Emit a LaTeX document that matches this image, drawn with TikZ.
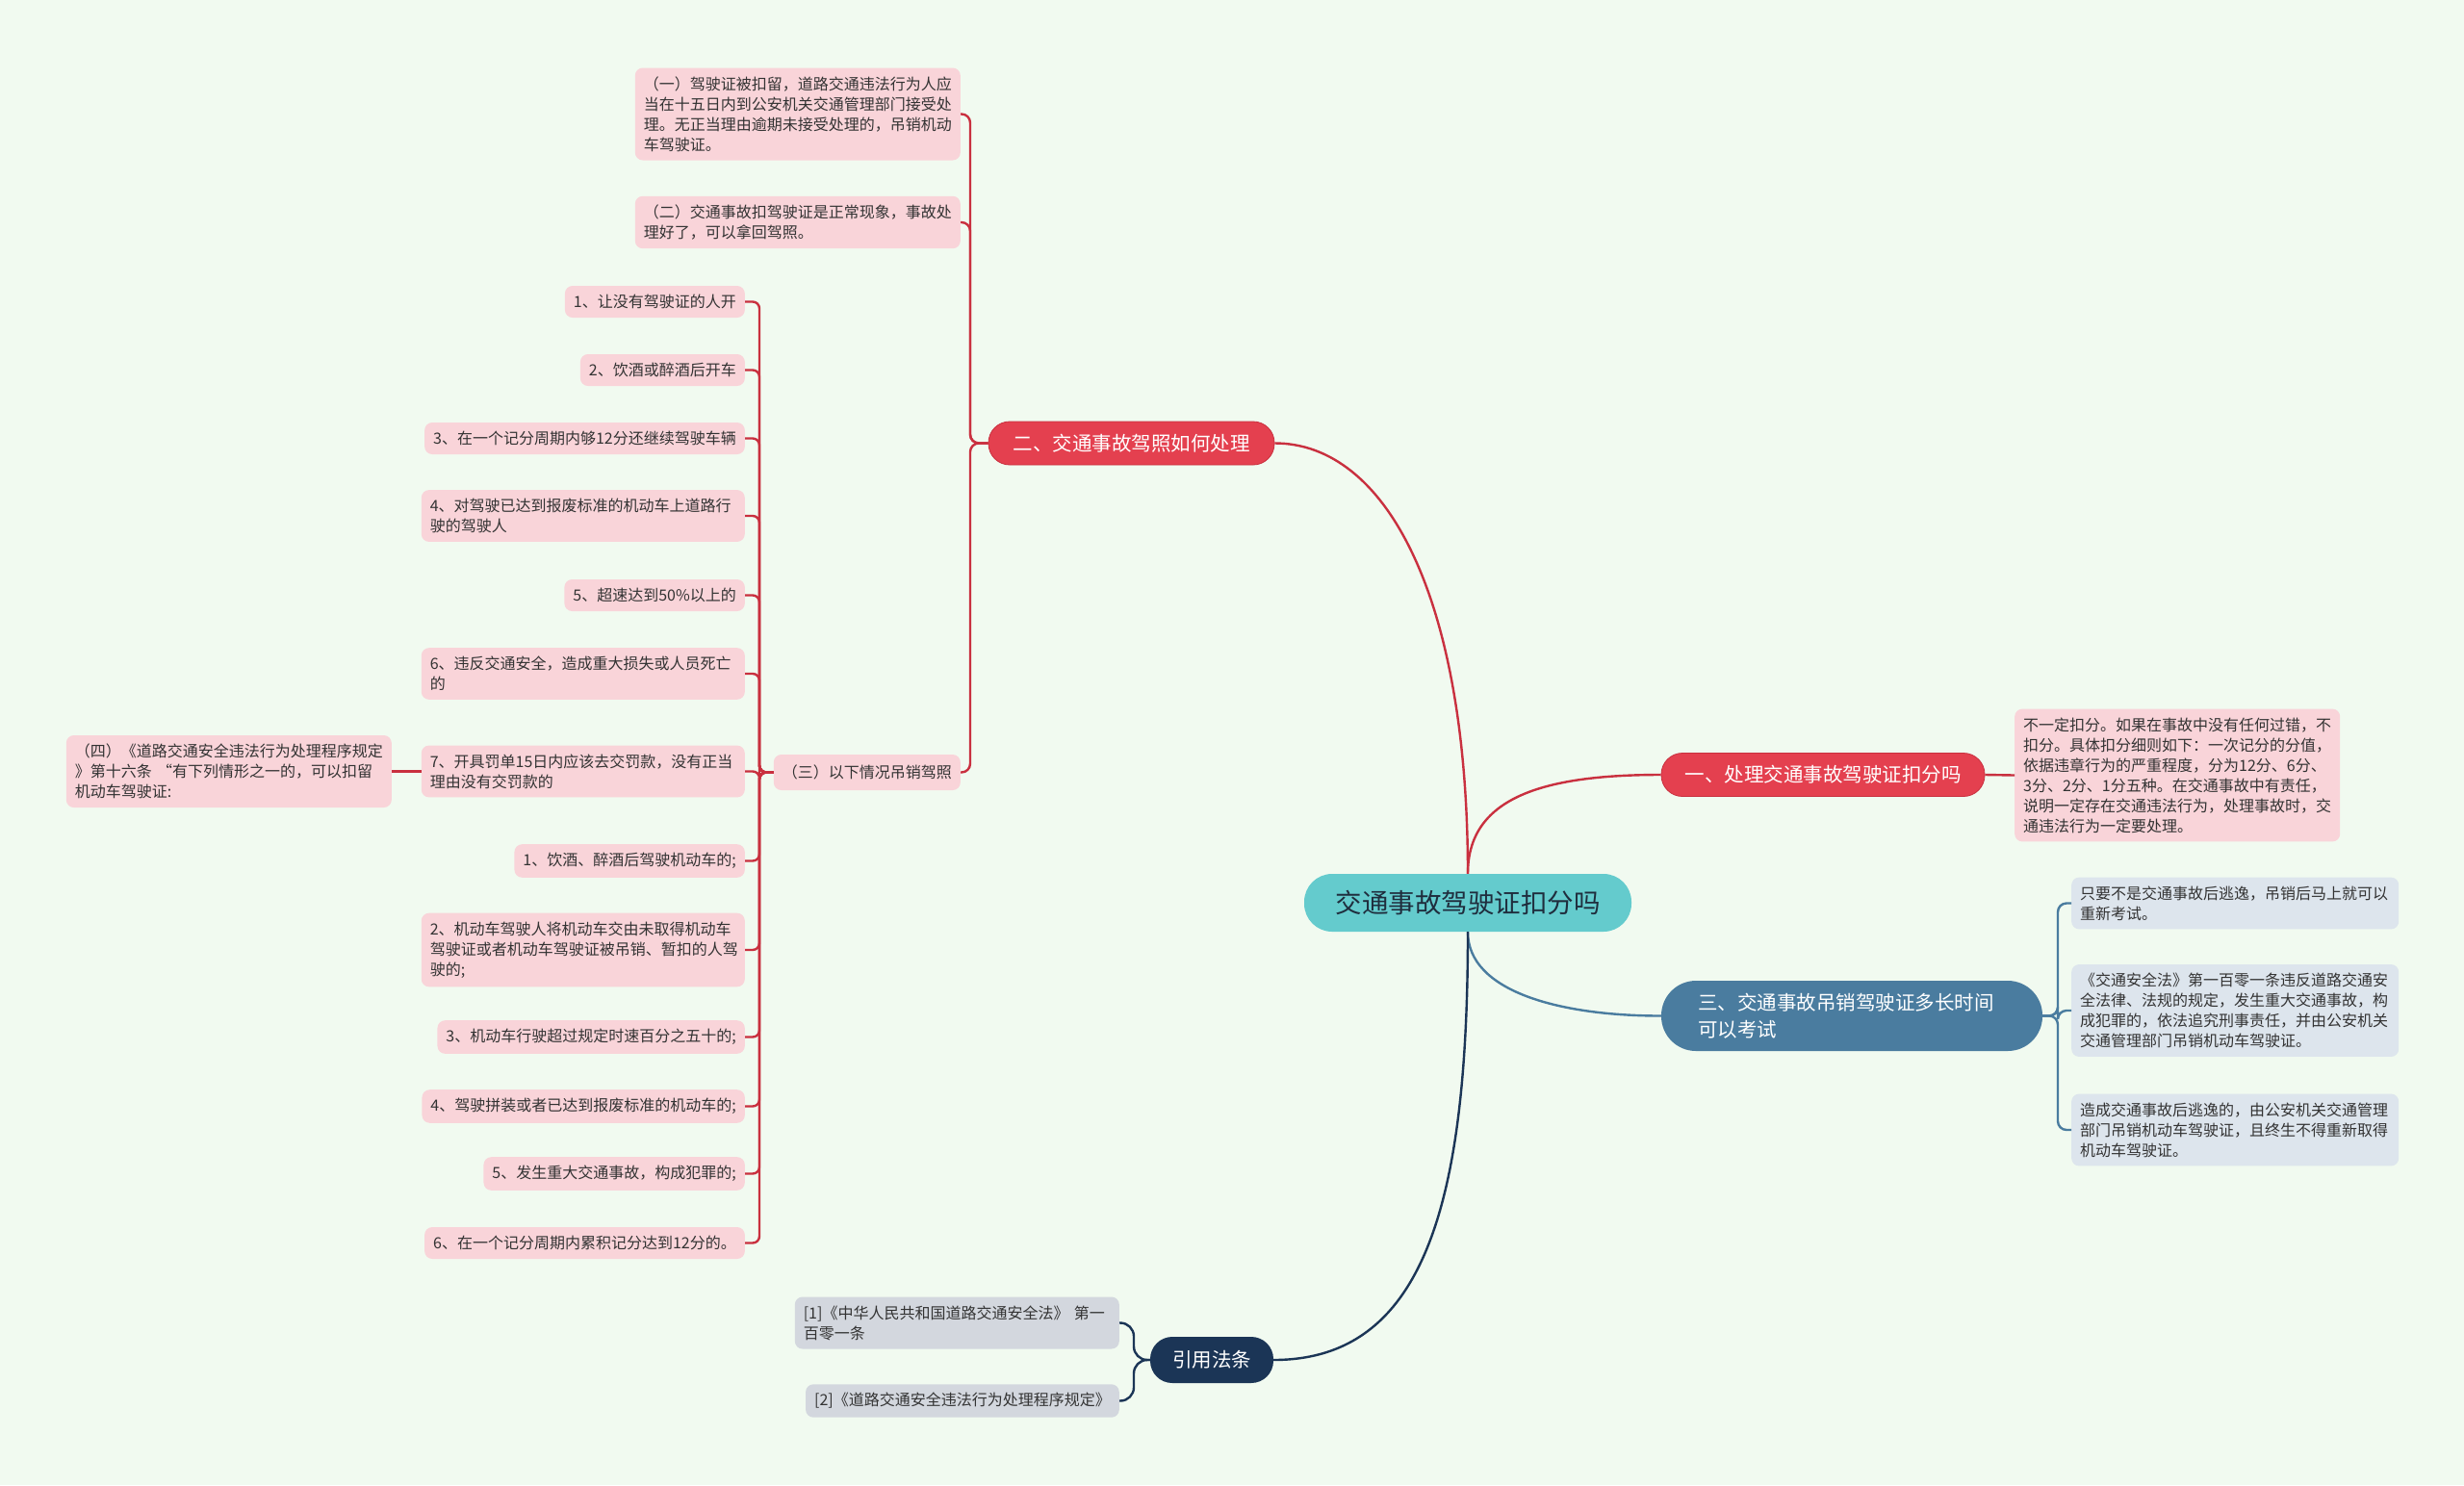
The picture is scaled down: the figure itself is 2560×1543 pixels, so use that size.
\documentclass[tikz,border=0pt]{standalone}
\usepackage{fontspec}
\setmainfont{Noto Sans CJK SC}
\definecolor{bgc}{HTML}{F1FAF0}
\definecolor{redc}{HTML}{E4404F}
\definecolor{redl}{HTML}{C9303F}
\definecolor{pinkc}{HTML}{F9D4D9}
\definecolor{tealc}{HTML}{64CBCD}
\definecolor{bluec}{HTML}{4A7C9F}
\definecolor{bleaf}{HTML}{DDE5ED}
\definecolor{navyc}{HTML}{1B3556}
\definecolor{gleaf}{HTML}{D3D7DE}
\definecolor{txt}{HTML}{333333}
\definecolor{roottxt}{HTML}{1F2D3D}
\begin{document}
\begin{tikzpicture}[x=1pt,y=-1pt,
  leafbase/.style={rounded corners=8pt, inner xsep=9pt, inner ysep=9pt,
    font=\fontsize{16}{21}\selectfont, text=txt, align=left},
  leafp/.style={leafbase, fill=pinkc},
  leafb/.style={leafbase, fill=bleaf},
  leafg/.style={leafbase, fill=gleaf},
  single/.style={minimum height=33pt},
  mainbase/.style={text=white, font=\fontsize{20.5}{28}\selectfont, inner xsep=20pt, inner ysep=6pt},
  mainr/.style={mainbase, fill=redc, draw=redl, line width=0.8pt, rounded corners=22pt, minimum height=45pt},
  mainblue/.style={mainbase, fill=bluec, rounded corners=36pt, minimum height=73pt, text width=320pt, inner xsep=38pt, align=left},
  mainnavy/.style={mainbase, fill=navyc, rounded corners=23pt, minimum height=48pt},
  rootn/.style={fill=tealc, text=roottxt, font=\fontsize{27.5}{32}\selectfont, rounded corners=29pt, minimum height=60pt, minimum width=340pt},
  conr/.style={draw=redl, line width=2.4pt},
  conb/.style={draw=bluec, line width=2.4pt},
  conn/.style={draw=navyc, line width=2.4pt},
]
\fill[bgc] (0,0) rectangle (2560,1543);
\useasboundingbox (0,0) rectangle (2560,1543);

% main nodes
\node[rootn] (root) at (1525,938) {交通事故驾驶证扣分吗};
\node[mainr, minimum width=297pt] (b2) at (1175.5,460.5) {二、交通事故驾照如何处理};
\node[mainr, minimum width=336pt] (b1) at (1894,805) {一、处理交通事故驾驶证扣分吗};
\node[mainblue] (b3) at (1924,1055.5) {三、交通事故吊销驾驶证多长时间\\可以考试};
\node[mainnavy, minimum width=128pt] (b4) at (1259,1413) {引用法条};

% branch one leaf
\node[leafp, text width=320pt, anchor=west] (l1) at (2093,805.5) {不一定扣分。如果在事故中没有任何过错，不\\扣分。具体扣分细则如下：一次记分的分值，\\依据违章行为的严重程度，分为12分、6分、\\3分、2分、1分五种。在交通事故中有责任，\\说明一定存在交通违法行为，处理事故时，交\\通违法行为一定要处理。};

% branch three leaves
\node[leafb, text width=322pt, anchor=west] (t1) at (2152,938.5) {只要不是交通事故后逃逸，吊销后马上就可以\\重新考试。};
\node[leafb, text width=322pt, anchor=west] (t2) at (2152,1050) {《交通安全法》第一百零一条违反道路交通安\\全法律、法规的规定，发生重大交通事故，构\\成犯罪的，依法追究刑事责任，并由公安机关\\交通管理部门吊销机动车驾驶证。};
\node[leafb, text width=322pt, anchor=west] (t3) at (2152,1174) {造成交通事故后逃逸的，由公安机关交通管理\\部门吊销机动车驾驶证，且终生不得重新取得\\机动车驾驶证。};

% citation leaves
\node[leafg, text width=319pt, anchor=east] (c1) at (1163,1374.5) {[1]《中华人民共和国道路交通安全法》 第一\\百零一条};
\node[leafg, single, anchor=east] (c2) at (1163,1455.5) {[2]《道路交通安全违法行为处理程序规定》};

% branch two leaves
\node[leafp, text width=320pt, anchor=east] (a1) at (998,118.5) {（一）驾驶证被扣留，道路交通违法行为人应\\当在十五日内到公安机关交通管理部门接受处\\理。无正当理由逾期未接受处理的，吊销机动\\车驾驶证。};
\node[leafp, text width=320pt, anchor=east] (a2) at (998,231) {（二）交通事故扣驾驶证是正常现象，事故处\\理好了，可以拿回驾照。};
\node[leafp, minimum height=37pt, anchor=east] (a3) at (998,802.5) {（三）以下情况吊销驾照};

% items under (三)
\node[leafp, single, anchor=east] (i1) at (774,313.5) {1、让没有驾驶证的人开};
\node[leafp, single, anchor=east] (i2) at (774,384.5) {2、饮酒或醉酒后开车};
\node[leafp, single, anchor=east] (i3) at (774,455.5) {3、在一个记分周期内够12分还继续驾驶车辆};
\node[leafp, text width=318pt, anchor=east] (i4) at (774,536) {4、对驾驶已达到报废标准的机动车上道路行\\驶的驾驶人};
\node[leafp, single, anchor=east] (i5) at (774,618.5) {5、超速达到50\%以上的};
\node[leafp, text width=318pt, anchor=east] (i6) at (774,700) {6、违反交通安全，造成重大损失或人员死亡\\的};
\node[leafp, text width=318pt, anchor=east] (i7) at (774,801.5) {7、开具罚单15日内应该去交罚款，没有正当\\理由没有交罚款的};
\node[leafp, single, anchor=east] (i8) at (774,894.5) {1、饮酒、醉酒后驾驶机动车的;};
\node[leafp, text width=318pt, anchor=east] (i9) at (774,987) {2、机动车驾驶人将机动车交由未取得机动车\\驾驶证或者机动车驾驶证被吊销、暂扣的人驾\\驶的;};
\node[leafp, single, anchor=east] (i10) at (774,1077.5) {3、机动车行驶超过规定时速百分之五十的;};
\node[leafp, single, anchor=east] (i11) at (774,1149.5) {4、驾驶拼装或者已达到报废标准的机动车的;};
\node[leafp, single, anchor=east] (i12) at (774,1219.5) {5、发生重大交通事故，构成犯罪的;};
\node[leafp, single, anchor=east] (i13) at (774,1291.5) {6、在一个记分周期内累积记分达到12分的。};
\node[leafp, text width=320pt, anchor=east] (d4) at (407,801.5) {（四）《道路交通安全违法行为处理程序规定\\》第十六条 “有下列情形之一的，可以扣留\\机动车驾驶证:};

% root connectors
\draw[conr] (root.north) .. controls (1525,620) and (1440,460.5) .. (b2.east);
\draw[conr] (root.north) .. controls (1525,830) and (1600,805) .. (b1.west);
\draw[conb] (root.south) .. controls (1525,1030) and (1620,1055.5) .. (b3.west);
\draw[conn] (root.south) .. controls (1525,1250) and (1480,1413) .. (b4.east);

% branch one
\draw[conr] (b1.east) -- (l1.west);

% branch two
\foreach \c in {a1,a2,a3}{
  \draw[conr, rounded corners=9pt] (b2.west) -- (1008,460.5) |- (\c.east);
}
\foreach \c in {i1,i2,i3,i4,i5,i6,i7,i8,i9,i10,i11,i12,i13}{
  \draw[conr, rounded corners=7pt] (a3.west) -- (789,802.5) |- (\c.east);
}
\draw[conr] (i7.west) -- (d4.east);

% branch three
\foreach \c in {t1,t2,t3}{
  \draw[conb, rounded corners=9pt] (b3.east) -- (2138,1055.5) |- (\c.west);
}

% citations
\foreach \c in {c1,c2}{
  \draw[conn, rounded corners=14pt] (b4.west) -- (1178,1413) |- (\c.east);
}
\end{tikzpicture}
\end{document}
